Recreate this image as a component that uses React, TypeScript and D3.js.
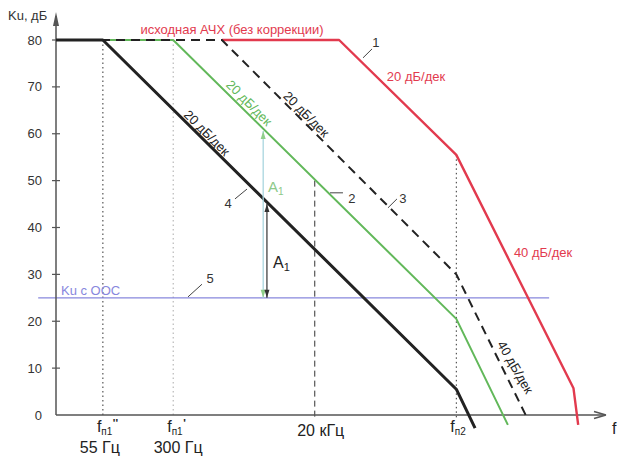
import React from 'react';
import * as d3 from 'd3';

const W = 622;
const H = 457;

// y axis ticks (dB)
const yTicks = [0, 10, 20, 30, 40, 50, 60, 70, 80];

// characteristic frequencies (position along log-frequency axis, decades)
const fn1pp = 0.5;   // f''п1 = 55 Гц
const fn1p = 1.25;   // f'п1 = 300 Гц
const f20k = 2.76;   // 20 кГц
const fn2 = 4.27;    // fп2

// curves: [x (decades), Ku (dB)]
const curve1: [number, number][] = [[1.77, 80], [3.02, 80], [fn2, 55.5], [5.52, 5.7], [5.57, -2.1]];
const curve2: [number, number][] = [[0, 80], [fn1p, 80], [fn2, 20.5], [4.82, -2.1]];
const curve3: [number, number][] = [[0, 80], [1.77, 80], [fn2, 30], [5.01, 0]];
const curve4: [number, number][] = [[0, 80], [fn1pp, 80], [fn2, 5.5], [4.47, -2.8]];

// Ku with feedback
const kuOOS = 25;
const kuOOSRange = [-0.19, 5.26];

// A1 markers
const a1Green = { x: 2.21, from: 25, to: 60.6 };
const a1Black = { x: 2.25, from: 25, to: 45 };

const x = d3.scaleLinear().domain([0, 5.824]).range([56, 602]);
const y = d3.scaleLinear().domain([0, 80]).range([415, 40]);

const line = d3
  .line<[number, number]>()
  .x((d) => x(d[0]))
  .y((d) => y(d[1]));

const FONT = "Arial, 'Liberation Sans', sans-serif";
const RED = '#e23a4e';
const GREEN = '#62b85a';
const BLACK = '#222';
const BLUE = '#8787dd';
const AXIS = '#555';

function Label({ xd, yd, text, color = '#333', size = 13, rotate = 0, anchor = 'middle' }: any) {
  return (
    <text
      transform={`translate(${x(xd)},${y(yd)}) rotate(${rotate})`}
      textAnchor={anchor}
      dy="0.35em"
      fill={color}
      fontSize={size}
      fontFamily={FONT}
    >
      {text}
    </text>
  );
}

function Leader({ x1, y1, x2, y2 }: any) {
  return <line x1={x(x1)} y1={y(y1)} x2={x(x2)} y2={y(y2)} stroke="#444" strokeWidth={1} />;
}

function FLabel({ xd, sub, primes }: any) {
  const cx = x(xd);
  return (
    <text x={cx - 6} y={432} fontSize={16} fontFamily={FONT} fill="#222">
      f
      <tspan fontSize={10} dy={3}>
        {sub}
      </tspan>
      {primes ? (
        <tspan fontSize={11} fontWeight="bold" dx={0.5} dy={-8}>
          {primes}
        </tspan>
      ) : null}
    </text>
  );
}

export default function App() {
  const arrowV = (xd: number, yd: number, up: boolean) => {
    const px = x(xd);
    const py = y(yd);
    const s = up ? 1 : -1;
    return `M${px},${py} L${px - 2.5},${py + 8 * s} L${px + 2.5},${py + 8 * s} Z`;
  };

  return (
    <svg
      width={W}
      height={H}
      style={{ position: 'absolute', left: 0, top: 0, background: '#fff' }}
    >
      {/* vertical guides */}
      <line x1={x(fn1pp)} y1={y(80)} x2={x(fn1pp)} y2={y(0)} stroke="#333" strokeWidth={1} strokeDasharray="1.5 3" />
      <line x1={x(fn1p)} y1={y(80)} x2={x(fn1p)} y2={y(0)} stroke="#aaa" strokeWidth={1} strokeDasharray="1.5 3" />
      <line x1={x(f20k)} y1={y(50)} x2={x(f20k)} y2={y(0) + 4} stroke="#333" strokeWidth={1} strokeDasharray="6 4" />
      <line x1={x(fn2)} y1={y(55.5)} x2={x(fn2)} y2={y(0) + 4} stroke="#333" strokeWidth={1} strokeDasharray="1.5 3" />

      {/* Ku с ООС */}
      <line x1={x(kuOOSRange[0])} y1={y(kuOOS)} x2={x(kuOOSRange[1])} y2={y(kuOOS)} stroke={BLUE} strokeWidth={1.3} />

      {/* axes */}
      <line x1={x(0)} y1={y(0)} x2={x(0)} y2={16} stroke={AXIS} strokeWidth={1.5} />
      <path d={`M${x(0)},12 L${x(0) - 3},26 L${x(0) + 3},26 Z`} fill={AXIS} />
      <line x1={x(0)} y1={y(0)} x2={604} y2={y(0)} stroke={AXIS} strokeWidth={1.5} />
      <path d={`M606,${y(0)} L594,${y(0) - 3.5} M606,${y(0)} L594,${y(0) + 3.5}`} stroke={AXIS} strokeWidth={1.5} fill="none" />
      {yTicks.filter((t) => t > 0).map((t) => (
        <line key={t} x1={x(0) - 4} x2={x(0) + 4} y1={y(t)} y2={y(t)} stroke={AXIS} strokeWidth={1.2} />
      ))}
      {yTicks.map((t) => (
        <text key={'l' + t} x={42} y={y(t)} dy="0.35em" textAnchor="end" fontSize={13} fontFamily={FONT} fill="#333">
          {t}
        </text>
      ))}
      <text x={8} y={20} fontSize={13} fontFamily={FONT} fill="#333">
        Ku, дБ
      </text>

      {/* curves */}
      <path d={line(curve1) || ''} fill="none" stroke={RED} strokeWidth={2.4} strokeLinejoin="round" />
      <path d={line(curve2) || ''} fill="none" stroke={GREEN} strokeWidth={2} strokeLinejoin="round" />
      <path d={line(curve3) || ''} fill="none" stroke={BLACK} strokeWidth={2} strokeDasharray="9 6" />
      <path d={line(curve4) || ''} fill="none" stroke={BLACK} strokeWidth={3} strokeLinejoin="round" />

      {/* A1 markers */}
      <line x1={x(a1Green.x)} y1={y(a1Green.from)} x2={x(a1Green.x)} y2={y(a1Green.to)} stroke="#a9d6df" strokeWidth={1.3} />
      <path d={arrowV(a1Green.x, a1Green.to, true)} fill="#8fcf8a" />
      <path d={arrowV(a1Green.x, a1Green.from, false)} fill="#8fcf8a" />
      <line x1={x(a1Black.x)} y1={y(a1Black.from)} x2={x(a1Black.x)} y2={y(a1Black.to)} stroke="#333" strokeWidth={1.2} />
      <path d={arrowV(a1Black.x, a1Black.to, true)} fill="#333" />
      <path d={arrowV(a1Black.x, a1Black.from, false)} fill="#333" />
      <text x={x(2.26)} y={y(48.6)} dy="0.35em" fontSize={15} fontFamily={FONT} fill="#8cc98a">
        A<tspan fontSize={10} dy={3}>1</tspan>
      </text>
      <text x={x(2.315)} y={y(32.6)} dy="0.35em" fontSize={16} fontFamily={FONT} fill="#222">
        A<tspan fontSize={11} dy={3}>1</tspan>
      </text>

      {/* annotations */}
      <Label xd={1.877} yd={82.2} text="исходная АЧХ (без коррекции)" color={RED} />
      <Label xd={3.84} yd={72.3} text="20 дБ/дек" color={RED} />
      <Label xd={5.195} yd={34.6} text="40 дБ/дек" color={RED} />
      <Label xd={1.61} yd={60.2} text="20 дБ/дек" color={BLACK} rotate={45} />
      <Label xd={2.06} yd={66.6} text="20 дБ/дек" color={GREEN} rotate={45} />
      <Label xd={2.67} yd={64.2} text="20 дБ/дек" color={BLACK} rotate={45} />
      <Label xd={4.9} yd={10.2} text="40 дБ/дек" color={BLACK} rotate={60} />
      <text x={x(0.053)} y={y(25.6)} fontSize={13} fontFamily={FONT} fill={BLUE}>
        Ku с ООС
      </text>

      <Leader x1={3.275} y1={76.2} x2={3.371} y2={78.1} />
      <Label xd={3.413} yd={79.4} text="1" />
      <Leader x1={2.923} y1={47.4} x2={3.061} y2={47.4} />
      <Label xd={3.157} yd={46.3} text="2" />
      <Leader x1={3.541} y1={44.2} x2={3.637} y2={46.1} />
      <Label xd={3.701} yd={46.3} text="3" />
      <Leader x1={1.909} y1={46.1} x2={2.037} y2={48.2} />
      <Label xd={1.835} yd={45.2} text="4" />
      <Leader x1={1.408} y1={25.2} x2={1.557} y2={27.9} />
      <Label xd={1.643} yd={29.2} text="5" />

      {/* x labels */}
      <FLabel xd={fn1pp} sub="п1" primes="''" />
      <FLabel xd={fn1p} sub="п1" primes="'" />
      <FLabel xd={fn2} sub="п2" primes="" />
      <text x={x(fn1pp) - 3} y={453} textAnchor="middle" fontSize={16} fontFamily={FONT} fill="#222">
        55 Гц
      </text>
      <text x={x(fn1p) + 5} y={453} textAnchor="middle" fontSize={16} fontFamily={FONT} fill="#222">
        300 Гц
      </text>
      <text x={x(f20k) + 6} y={436} textAnchor="middle" fontSize={16} fontFamily={FONT} fill="#222">
        20 кГц
      </text>
      <text x={612} y={434} fontSize={16} fontFamily={FONT} fill="#222">
        f
      </text>
    </svg>
  );
}
